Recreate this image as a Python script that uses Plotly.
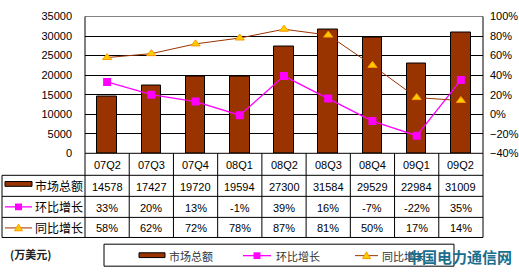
import plotly.graph_objects as go

categories = ["07Q2", "07Q3", "07Q4", "08Q1", "08Q2", "08Q3", "08Q4", "09Q1", "09Q2"]
market_total = [14578, 17427, 19720, 19594, 27300, 31584, 29529, 22984, 31009]
qoq_growth = [33, 20, 13, -1, 39, 16, -7, -22, 35]
yoy_growth = [58, 62, 72, 78, 87, 81, 50, 17, 14]
series_names = ["市场总额", "环比增长", "同比增长"]
unit_label = "(万美元)"
watermark = "中国电力通信网"

W, H = 519, 276
PL, PR, PT, PB = 85, 483, 11, 154
ROWS = [154, 177, 199, 221, 242]
TL = 2

BROWN = "#993300"
MAG = "#FF00FF"
YEL = "#FFCC00"
ORG = "#FF9900"


def X(px):
    return px / W


def Y(py):
    return 1 - py / H


fig = go.Figure()
fig.add_trace(go.Bar(x=categories, y=market_total, name=series_names[0],
                     marker=dict(color=BROWN, line=dict(color="black", width=1)),
                     width=0.44, yaxis="y"))
fig.add_trace(go.Scatter(x=categories, y=qoq_growth, name=series_names[1], yaxis="y2",
                         mode="lines+markers", line=dict(color=MAG, width=1.3),
                         marker=dict(symbol="square", size=8, color=MAG)))
fig.add_trace(go.Scatter(x=categories, y=yoy_growth, name=series_names[2], yaxis="y2",
                         mode="lines+markers", line=dict(color=BROWN, width=1),
                         marker=dict(symbol="triangle-up", size=8, color=YEL,
                                     line=dict(color=ORG, width=1))))

shapes = []
annotations = []


def line(x0, y0, x1, y1, color="black", width=1):
    shapes.append(dict(type="line", xref="paper", yref="paper",
                       x0=X(x0), y0=Y(y0), x1=X(x1), y1=Y(y1),
                       line=dict(color=color, width=width)))


# plot frame
line(PL, PT, PR, PT, color="#808080")
line(PL, PT, PL, PB)
line(PR, PT, PR, PB)

# table grid
n = len(categories)
cw = (PR - PL) / n
line(PL, ROWS[0], PR, ROWS[0])
for r in ROWS[1:]:
    line(TL, r, PR, r)
line(TL, ROWS[1], TL, ROWS[-1])
for k in range(n + 1):
    xx = PL + cw * k
    line(xx, ROWS[0], xx, ROWS[-1])

NUMFONT = dict(family="Liberation Sans, Arial", size=11, color="black")
CJK = "Noto Sans CJK SC"

row_vals = [
    [str(v) for v in market_total],
    [f"{v}%" for v in qoq_growth],
    [f"{v}%" for v in yoy_growth],
]
for i, c in enumerate(categories):
    cx = PL + cw * (i + 0.5)
    annotations.append(dict(x=X(cx), y=Y((ROWS[0] + ROWS[1]) / 2 + 1), xref="paper", yref="paper",
                            text=c, showarrow=False, font=NUMFONT, xanchor="center", yanchor="middle"))
    for r in range(3):
        cy = (ROWS[r + 1] + ROWS[r + 2]) / 2 + 1
        annotations.append(dict(x=X(cx), y=Y(cy), xref="paper", yref="paper",
                                text=row_vals[r][i], showarrow=False, font=NUMFONT,
                                xanchor="center", yanchor="middle"))

for r in range(3):
    cy = (ROWS[r + 1] + ROWS[r + 2]) / 2
    annotations.append(dict(x=X(33), y=Y(cy), xref="paper", yref="paper", text=series_names[r],
                            showarrow=False, xanchor="left", yanchor="middle",
                            font=dict(family=CJK, size=12, color="black")))


def key_bar(x0, x1, cy):
    shapes.append(dict(type="rect", xref="paper", yref="paper", x0=X(x0), x1=X(x1),
                       y0=Y(cy - 2.5), y1=Y(cy + 2.5), fillcolor=BROWN,
                       line=dict(color="black", width=1)))


def key_sq(x0, x1, cy):
    line(x0, cy, x1, cy, color=MAG, width=1.3)
    m = (x0 + x1) / 2
    shapes.append(dict(type="rect", xref="paper", yref="paper", x0=X(m - 3.5), x1=X(m + 3.5),
                       y0=Y(cy - 3.5), y1=Y(cy + 3.5), fillcolor=MAG, line=dict(color=MAG, width=0)))


def key_tri(x0, x1, cy):
    line(x0, cy, x1, cy, color=BROWN, width=1)
    m = (x0 + x1) / 2
    path = f"M {X(m - 4)} {Y(cy + 3)} L {X(m + 4)} {Y(cy + 3)} L {X(m)} {Y(cy - 4)} Z"
    shapes.append(dict(type="path", xref="paper", yref="paper", path=path,
                       fillcolor=YEL, line=dict(color=ORG, width=1)))


key_bar(5, 32, 186)
key_sq(5, 32, 210)
key_tri(5, 32, 232)

shapes.append(dict(type="rect", xref="paper", yref="paper", x0=X(104), x1=X(454),
                   y0=Y(249), y1=Y(272), line=dict(color="black", width=1), fillcolor="white"))
key_bar(139, 165, 260.5)
key_sq(243, 271, 261)
key_tri(355, 378, 261)
for tx, name in zip([167, 274, 380], series_names):
    annotations.append(dict(x=X(tx), y=Y(261.5), xref="paper", yref="paper", text=name,
                            showarrow=False, xanchor="left", yanchor="middle",
                            font=dict(family=CJK, size=11, color="#333333")))

annotations.append(dict(x=X(8), y=Y(259), xref="paper", yref="paper", text=unit_label,
                        showarrow=False, xanchor="left", yanchor="middle",
                        font=dict(family=CJK, size=11, color="#222222", weight="bold")))
annotations.append(dict(x=X(514), y=Y(262), xref="paper", yref="paper", text=watermark,
                        showarrow=False, xanchor="right", yanchor="middle",
                        font=dict(family=CJK, size=15, color="#1A6E8E", weight="bold")))

fig.update_layout(
    width=W, height=H, margin=dict(l=0, r=0, t=0, b=0),
    paper_bgcolor="white", plot_bgcolor="white", showlegend=False, bargap=0,
    xaxis=dict(domain=[X(PL), X(PR)], range=[-0.5, n - 0.5], showticklabels=False,
               showgrid=False, zeroline=False, showline=False, ticks=""),
    yaxis=dict(domain=[Y(PB), Y(PT)], range=[0, 35000], dtick=5000, tickformat="d",
               showgrid=True, gridcolor="black", gridwidth=1, zeroline=False, showline=False,
               ticks="", tickfont=NUMFONT, ticklabelstandoff=12),
    yaxis2=dict(overlaying="y", side="right", range=[-40, 100], dtick=20, ticksuffix="%",
                showgrid=False, zeroline=False, showline=False, ticks="",
                tickfont=NUMFONT, ticklabelstandoff=6),
    shapes=shapes, annotations=annotations,
)

fig.write_html("out.html")
